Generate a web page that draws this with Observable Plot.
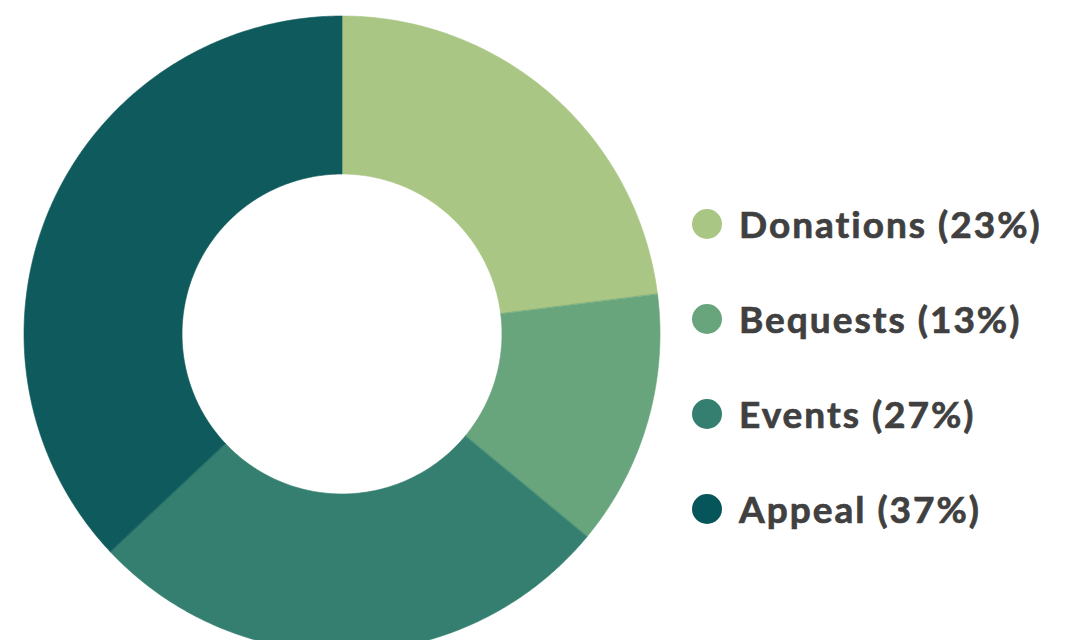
<!DOCTYPE html>
<html>
<head>
<meta charset="utf-8">
<script src="https://cdn.jsdelivr.net/npm/d3@7"></script>
<script src="https://cdn.jsdelivr.net/npm/@observablehq/plot@0.6"></script>
<style>
  html, body { margin: 0; padding: 0; background: #ffffff; }
  #wrap { position: relative; width: 1069px; height: 640px; overflow: hidden; }
  #legend { position: absolute; left: 692px; top: 176px; font-family: Lato, "Open Sans", sans-serif; font-weight: 700; color: #404040; }
  .item { display: flex; align-items: center; height: 95px; margin: 0; }
  .item .dot { width: 30px; height: 30px; border-radius: 50%; margin-right: 17px; flex: none; }
  .item .lab { font-size: 37px; letter-spacing: 2px; white-space: nowrap; -webkit-text-stroke: 0.7px #404040; }
</style>
</head>
<body>
<div id="wrap"></div>
<script>
const categories = ["Donations", "Bequests", "Events", "Appeal"];
const shares = [23, 13, 27, 37];
const colors = ["#a9c684", "#68a57c", "#347f6f", "#0f5a5c"];
const innerRatio = 0.503;

// build annular-sector strips from the shares
const total = d3.sum(shares);
const rows = [];
let cum = 0;
categories.forEach((cat, i) => {
  const a0 = cum / total * 2 * Math.PI;
  cum += shares[i];
  const a1 = cum / total * 2 * Math.PI;
  const n = Math.max(8, Math.ceil((a1 - a0) / 0.01));
  for (let k = 0; k <= n; k++) {
    const a = a0 + (a1 - a0) * k / n;
    rows.push({
      cat,
      xo: Math.sin(a), yo: -Math.cos(a),
      xi: innerRatio * Math.sin(a), yi: -innerRatio * Math.cos(a)
    });
  }
});

const chart = Plot.plot({
  width: 1069,
  height: 640,
  margin: 0,
  x: {domain: [-1, 1], range: [24, 660], axis: null},
  y: {domain: [-1, 1], range: [16, 652], axis: null},
  color: {domain: categories, range: colors},
  marks: [
    Plot.area(rows, {x1: "xo", y1: "yo", x2: "xi", y2: "yi", z: "cat", fill: "cat", stroke: "cat", strokeWidth: 0.6, curve: "linear"})
  ]
});
chart.style.background = "#ffffff";
const wrap = document.getElementById("wrap");
wrap.appendChild(chart);

const legend = document.createElement("div");
legend.id = "legend";
categories.forEach((cat, i) => {
  const item = document.createElement("div");
  item.className = "item";
  const dot = document.createElement("span");
  dot.className = "dot";
  dot.style.background = i === 3 ? "#06555b" : colors[i];
  const lab = document.createElement("span");
  lab.className = "lab";
  lab.textContent = `${cat} (${shares[i]}%)`;
  item.appendChild(dot);
  item.appendChild(lab);
  legend.appendChild(item);
});
wrap.appendChild(legend);
</script>
</body>
</html>
